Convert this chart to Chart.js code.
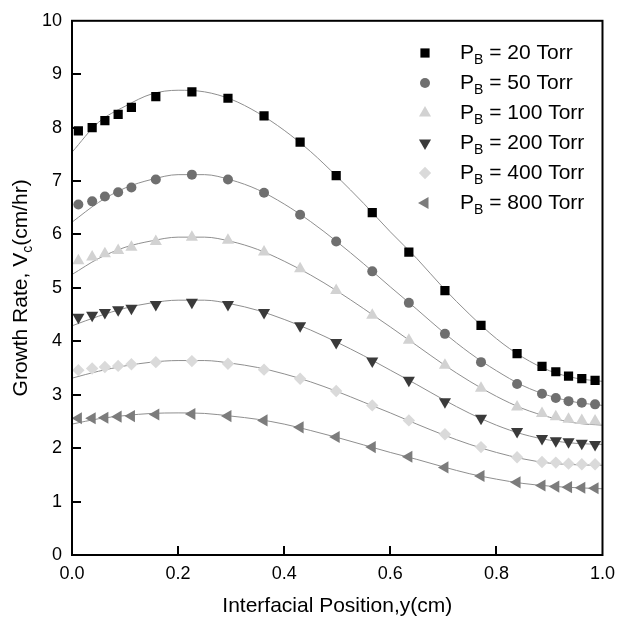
<!DOCTYPE html>
<html>
<head>
<meta charset="utf-8">
<script src="https://cdn.jsdelivr.net/npm/chart.js@4/dist/chart.umd.min.js"></script>
<style>
  body { margin: 0; background: #fff; }
  #wrap { width: 623px; height: 623px; }
</style>
</head>
<body>
<div id="wrap"><canvas id="myChart" width="623" height="623"></canvas></div>
<script>
// measured positions (cm)
var xPos = [0.012, 0.038, 0.062, 0.087, 0.112, 0.158, 0.226, 0.294, 0.362, 0.430, 0.498,
            0.566, 0.635, 0.703, 0.771, 0.839, 0.886, 0.912, 0.936, 0.961, 0.986];

// growth rate, cm/hr
var p20  = [7.94, 8.00, 8.13, 8.25, 8.38, 8.58, 8.67, 8.55, 8.22, 7.73, 7.10, 6.41, 5.67, 4.95, 4.30, 3.77, 3.53, 3.43, 3.35, 3.30, 3.27];
var p50  = [6.56, 6.62, 6.71, 6.79, 6.88, 7.03, 7.12, 7.03, 6.78, 6.37, 5.87, 5.31, 4.72, 4.14, 3.61, 3.20, 3.02, 2.94, 2.88, 2.85, 2.82];
var p100 = [5.51, 5.58, 5.64, 5.70, 5.76, 5.87, 5.95, 5.89, 5.67, 5.36, 4.95, 4.49, 4.02, 3.55, 3.12, 2.77, 2.65, 2.59, 2.54, 2.52, 2.51];
var p200 = [4.45, 4.49, 4.54, 4.59, 4.62, 4.69, 4.73, 4.69, 4.54, 4.29, 3.98, 3.63, 3.27, 2.87, 2.56, 2.31, 2.18, 2.14, 2.12, 2.09, 2.07];
var p400 = [3.46, 3.49, 3.52, 3.54, 3.57, 3.61, 3.63, 3.58, 3.47, 3.30, 3.07, 2.80, 2.52, 2.26, 2.02, 1.83, 1.74, 1.73, 1.71, 1.70, 1.70];
var p800 = [2.56, 2.56, 2.57, 2.59, 2.60, 2.63, 2.64, 2.60, 2.52, 2.39, 2.21, 2.02, 1.84, 1.64, 1.48, 1.36, 1.30, 1.28, 1.27, 1.26, 1.25];

// fitted curves
var fitX   = [0, 0.05, 0.1, 0.15, 0.2, 0.25, 0.3, 0.35, 0.4, 0.45, 0.5, 0.55, 0.6, 0.65, 0.7, 0.75, 0.8, 0.85, 0.9, 0.95, 1.0];
var fit20  = [7.54, 8.10, 8.40, 8.63, 8.70, 8.67, 8.53, 8.28, 7.95, 7.55, 7.08, 6.58, 6.05, 5.55, 5.00, 4.50, 4.05, 3.70, 3.45, 3.31, 3.25];
var fit50  = [6.23, 6.60, 6.87, 7.03, 7.12, 7.12, 7.02, 6.84, 6.57, 6.24, 5.86, 5.45, 5.02, 4.60, 4.17, 3.78, 3.45, 3.17, 2.98, 2.86, 2.80];
var fit100 = [5.25, 5.55, 5.76, 5.88, 5.95, 5.95, 5.87, 5.72, 5.50, 5.24, 4.94, 4.61, 4.27, 3.92, 3.57, 3.25, 2.97, 2.74, 2.58, 2.47, 2.43];
var fit200 = [4.29, 4.47, 4.62, 4.72, 4.77, 4.77, 4.70, 4.58, 4.41, 4.21, 3.98, 3.73, 3.46, 3.19, 2.91, 2.65, 2.43, 2.26, 2.15, 2.09, 2.07];
var fit400 = [3.31, 3.44, 3.54, 3.61, 3.64, 3.64, 3.59, 3.51, 3.39, 3.24, 3.06, 2.86, 2.66, 2.45, 2.25, 2.07, 1.92, 1.80, 1.72, 1.69, 1.68];
var fit800 = [2.45, 2.55, 2.61, 2.65, 2.66, 2.65, 2.60, 2.54, 2.45, 2.33, 2.20, 2.06, 1.92, 1.79, 1.65, 1.52, 1.42, 1.34, 1.29, 1.26, 1.24];

var pressures = ['20', '50', '100', '200', '400', '800'];
var xTicks = [0.2, 0.4, 0.6, 0.8];
var yTicks = [1, 2, 3, 4, 5, 6, 7, 8, 9];

var FONT = '"Liberation Sans", Arial, sans-serif';

//marker look for each series
var markers = [
  {style: 'rect',     rot: 0,   r: 6.5, color: '#000000'},
  {style: 'circle',   rot: 0,   r: 5,   color: '#6f6f6f'},
  {style: 'triangle', rot: 0,   r: 7,   color: '#d2d2d2'},
  {style: 'triangle', rot: 180, r: 7,   color: '#3a3a3a'},
  {style: 'rectRot',  rot: 0,   r: 6.2, color: '#dadada'},
  {style: 'triangle', rot: -90, r: 7,   color: '#7c7c7c'}
];

function pairs(xs, ys){
  return xs.map((x, i) => ({x: x, y: ys[i]}))
}

var pointSets = [p20, p50, p100, p200, p400, p800];
var fitSets = [fit20, fit50, fit100, fit200, fit400, fit800];

var datasets = []
fitSets.forEach((f, i) => {
  datasets.push({
    type: 'line',
    data: pairs(fitX, f),
    showLine: true,
    borderColor: '#8f8f8f',
    borderWidth: 1,
    pointRadius: 0,
    cubicInterpolationMode: 'monotone',
    order: 2
  })
})
pointSets.forEach((s, i) => {
  let m = markers[i]
  datasets.push({
    label: 'PB = ' + pressures[i] + ' Torr',
    data: pairs(xPos, s),
    pointStyle: m.style,
    rotation: m.rot,
    pointRadius: m.r,
    pointBackgroundColor: m.color,
    pointBorderColor: m.color,
    pointBorderWidth: 0,
    showLine: false,
    order: 1
  })
})

// text with subscript pieces: [[text, isSub], ...]
function drawParts(ctx, parts, x, y, size){
  let cx = x
  parts.forEach(p => {
    if(p[1]){
      ctx.font = Math.round(size * 0.65) + 'px ' + FONT
      ctx.fillText(p[0], cx, y + size * 0.35)
    } else {
      ctx.font = size + 'px ' + FONT
      ctx.fillText(p[0], cx, y)
    }
    cx += ctx.measureText(p[0]).width
  })
  return cx - x
}
function partsWidth(ctx, parts, size){
  let w = 0
  parts.forEach(p => {
    ctx.font = (p[1] ? Math.round(size * 0.65) : size) + 'px ' + FONT
    w += ctx.measureText(p[0]).width
  })
  return w
}

var framePlugin = {
  id: 'frame',
  afterDraw(chart){
    let ctx = chart.ctx
    let a = chart.chartArea
    let xs = chart.scales.x, ys = chart.scales.y
    ctx.save()
    ctx.strokeStyle = '#000'
    ctx.lineWidth = 2
    ctx.strokeRect(a.left, a.top, a.right - a.left, a.bottom - a.top)
    ctx.beginPath()
    yTicks.forEach(v => {
      let py = Math.round(ys.getPixelForValue(v))
      ctx.moveTo(a.left, py); ctx.lineTo(a.left + 9, py)
    })
    xTicks.forEach(v => {
      let px = Math.round(xs.getPixelForValue(v))
      ctx.moveTo(px, a.bottom); ctx.lineTo(px, a.bottom - 9)
    })
    ctx.stroke()

    // legend
    ctx.textBaseline = 'middle'
    ctx.textAlign = 'left'
    pressures.forEach((p, i) => {
      let m = markers[i]
      let ly = 53 + i * 30
      ctx.fillStyle = m.color
      ctx.strokeStyle = m.color
      Chart.helpers.drawPoint(ctx, {pointStyle: m.style, rotation: m.rot, radius: m.r, borderWidth: 0}, 425, ly)
      ctx.fillStyle = '#000'
      drawParts(ctx, [['P', false], ['B', true], [' = ' + p + ' Torr', false]], 460, ly, 21)
    })

    // axis titles
    let xt = 'Interfacial Position,y(cm)'
    ctx.font = '21px ' + FONT
    ctx.textAlign = 'center'
    ctx.fillText(xt, (a.left + a.right) / 2, 606)

    let yParts = [['Growth Rate, V', false], ['c', true], ['(cm/hr)', false]]
    ctx.translate(21, (a.top + a.bottom) / 2)
    ctx.rotate(-Math.PI / 2)
    ctx.textAlign = 'left'
    let w = partsWidth(ctx, yParts, 21)
    drawParts(ctx, yParts, -w / 2, 0, 21)
    ctx.restore()
  }
}

var ctx = document.getElementById('myChart').getContext('2d');
var chart = new Chart(ctx, {
  type: 'scatter',
  data: { datasets: datasets },
  options: {
    responsive: false,
    animation: false,
    layout: { padding: { top: 20, right: 12, left: 0, bottom: 0 } },
    plugins: { legend: { display: false }, tooltip: { enabled: false } },
    scales: {
      x: {
        type: 'linear', min: 0, max: 1,
        grid: { display: false, drawTicks: false },
        border: { display: false },
        ticks: { stepSize: 0.2, padding: 8, color: '#000', font: { size: 18, family: FONT },
                 callback: v => v.toFixed(1), maxRotation: 0 },
        afterFit: s => { s.height = 68 }
      },
      y: {
        min: 0, max: 10,
        grid: { display: false, drawTicks: false },
        border: { display: false },
        ticks: { stepSize: 1, padding: 10, color: '#000', font: { size: 18, family: FONT } },
        afterFit: s => { s.width = 72 }
      }
    }
  },
  plugins: [framePlugin]
});
</script>
</body>
</html>
